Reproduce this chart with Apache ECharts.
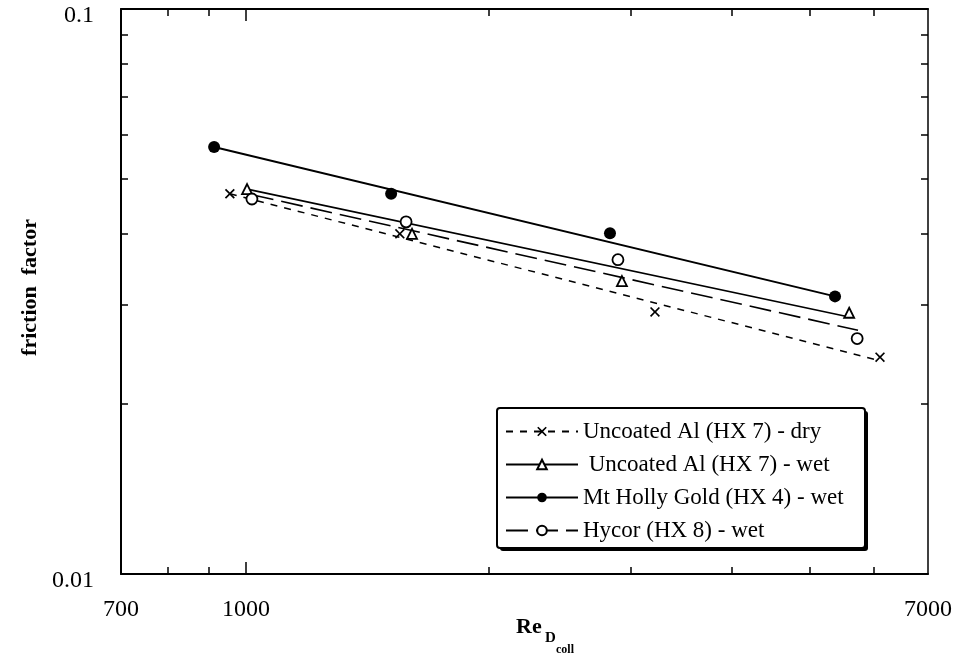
<!DOCTYPE html>
<html><head><meta charset="utf-8">
<script src="https://cdn.jsdelivr.net/npm/echarts@6/dist/echarts.min.js"></script>
<style>html,body{margin:0;padding:0;background:#fff}#c{width:962px;height:663px}</style>
</head><body><div id="c"></div>
<script>
// ---- data ----
const seriesNames = ['Uncoated Al (HX 7) - dry', ' Uncoated Al (HX 7) - wet', 'Mt Holly Gold (HX 4) - wet', 'Hycor (HX 8) - wet'];
const dryRe = [955, 1551, 3212, 6104];
const dryF = [0.0471, 0.0400, 0.0291, 0.0242];
const wetRe = [1003, 1606, 2923, 5590];
const wetF = [0.0480, 0.0400, 0.0330, 0.0290];
const hollyRe = [913, 1513, 2825, 5369];
const hollyF = [0.0570, 0.0471, 0.0401, 0.0310];
const hycorRe = [1017, 1579, 2890, 5719];
const hycorF = [0.0461, 0.0420, 0.0360, 0.0261];
// fitted power-law trend lines (end points)
const dryFitRe = [955, 6070];
const dryFitF = [0.0471, 0.0239];
const wetFitRe = [1003, 5590];
const wetFitF = [0.0480, 0.0285];
const hollyFitRe = [913, 5369];
const hollyFitF = [0.0570, 0.0310];
const hycorFitRe = [1017, 5733];
const hycorFitF = [0.0469, 0.0270];
// axis ticks
const xTickLabels = [700, 1000, 7000];
const xMinorTicks = [800, 900, 2000, 3000, 4000, 5000, 6000];
const xMajorTicks = [1000];
const yTickLabels = [0.01, 0.1];
const yMinorTicks = [0.02, 0.03, 0.04, 0.05, 0.06, 0.07, 0.08, 0.09];

const zip = (a, b) => a.map((v, i) => [v, b[i]]);
const SERIF = '"Liberation Serif", "Times New Roman", serif';
const XSYM = 'path://M0,1.2 L1.2,0 L5,3.8 L8.8,0 L10,1.2 L6.2,5 L10,8.8 L8.8,10 L5,6.2 L1.2,10 L0,8.8 L3.8,5 Z';

function xAx(pos, ticks, len, showLine, lw, labels) {
  return {
    type: 'log', logBase: 10, min: 700, max: 7000, position: pos,
    axisLine: { show: showLine, onZero: false, lineStyle: { color: '#000', width: lw } },
    axisTick: { show: true, inside: true, length: len, customValues: ticks, lineStyle: { color: '#000', width: 1.5 } },
    axisLabel: labels ? { show: true, customValues: labels, fontFamily: SERIF, fontSize: 24, color: '#000', margin: 24,
      formatter: v => String(+(+v).toPrecision(6)) } : { show: false },
    splitLine: { show: false }, minorTick: { show: false }
  };
}
function yAx(pos, ticks, len, lw, labels) {
  return {
    type: 'log', logBase: 10, min: 0.01, max: 0.1, position: pos,
    axisLine: { show: true, onZero: false, lineStyle: { color: '#000', width: lw } },
    axisTick: { show: true, inside: true, length: len, customValues: ticks, lineStyle: { color: '#000', width: 1.5 } },
    axisLabel: labels ? { show: true, customValues: labels, fontFamily: SERIF, fontSize: 24, color: '#000', margin: 27,
      verticalAlign: 'top', lineHeight: 13, formatter: v => String(+(+v).toPrecision(6)) } : { show: false },
    splitLine: { show: false }, minorTick: { show: false }
  };
}

const xAxes = [
  xAx('bottom', xMinorTicks, 7, true, 2, xTickLabels),
  xAx('bottom', xMajorTicks, 12, false, 2, null),
  xAx('top', xMinorTicks, 7, true, 2, null),
  xAx('top', xMajorTicks, 12, false, 2, null)
];
const yAxes = [
  yAx('left', yMinorTicks, 7, 2, yTickLabels),
  yAx('right', yMinorTicks, 7, 1.5, null)
];
yAxes[0].name = 'friction  factor';
yAxes[0].nameLocation = 'middle';
yAxes[0].nameRotate = 90;
yAxes[0].nameGap = 80;
yAxes[0].nameTextStyle = { fontFamily: SERIF, fontSize: 22, fontWeight: 'bold', color: '#000', padding: [0, 0, 0, 8] };

const lineDefs = [
  { name: seriesNames[0], data: zip(dryFitRe, dryFitF), symbol: XSYM, type: [7, 7], w: 1.5 },
  { name: seriesNames[1], data: zip(wetFitRe, wetFitF), symbol: 'emptyTriangle', type: 'solid', w: 1.6 },
  { name: seriesNames[2], data: zip(hollyFitRe, hollyFitF), symbol: 'circle', type: 'solid', w: 2 },
  { name: seriesNames[3], data: zip(hycorFitRe, hycorFitF), symbol: 'emptyCircle', type: [22, 8], w: 1.6 }
];
const pointDefs = [
  { name: 'dry points', data: zip(dryRe, dryF), symbol: XSYM, size: 10, color: '#000', bw: 0 },
  { name: 'wet points', data: zip(wetRe, wetF), symbol: 'triangle', size: 10, color: '#fff', bw: 1.8 },
  { name: 'holly points', data: zip(hollyRe, hollyF), symbol: 'circle', size: 12, color: '#000', bw: 0 },
  { name: 'hycor points', data: zip(hycorRe, hycorF), symbol: 'circle', size: 11, color: '#fff', bw: 1.8 }
];

const series = [];
lineDefs.forEach(d => series.push({
  type: 'line', name: d.name, data: d.data, xAxisIndex: 0, yAxisIndex: 0,
  symbol: d.symbol, symbolSize: 9, showSymbol: false, silent: true, animation: false,
  itemStyle: { color: '#000' },
  lineStyle: { color: '#000', width: d.w, type: d.type }
}));
pointDefs.forEach(d => series.push({
  type: 'scatter', name: d.name, data: d.data, xAxisIndex: 0, yAxisIndex: 0,
  symbol: d.symbol, symbolSize: d.size, animation: false, silent: true, z: 5,
  itemStyle: { color: d.color, borderColor: '#000', borderWidth: d.bw, opacity: 1 }
}));

const chart = echarts.init(document.getElementById('c'), null, { renderer: 'canvas' });
chart.setOption({
  backgroundColor: '#fff',
  animation: false,
  grid: { left: 121, right: 34, top: 9, bottom: 89, containLabel: false },
  xAxis: xAxes,
  yAxis: yAxes,
  legend: {
    data: seriesNames, orient: 'vertical', left: 497, top: 408, z: 10,
    itemWidth: 72, itemHeight: 12, itemGap: 10,
    padding: [12, 12, 8, 8],
    backgroundColor: 'transparent', borderWidth: 0,
    textStyle: { fontFamily: SERIF, fontSize: 23, color: '#000', lineHeight: 22 },
    selectedMode: false
  },
  graphic: [
    { type: 'rect', z: 3, silent: true, shape: { x: 500, y: 411, width: 368, height: 140, r: 3 }, style: { fill: '#000' } },
    { type: 'rect', z: 4, silent: true, shape: { x: 497, y: 408, width: 368, height: 140, r: 3 }, style: { fill: '#fff', stroke: '#000', lineWidth: 2 } },
    { type: 'text', left: 516, top: 616, style: { text: 'Re', font: 'bold 22px ' + SERIF, fill: '#000' } },
    { type: 'text', left: 545, top: 631, style: { text: 'D', font: 'bold 15px ' + SERIF, fill: '#000' } },
    { type: 'text', left: 556, top: 644, style: { text: 'coll', font: 'bold 12px ' + SERIF, fill: '#000' } }
  ],
  series: series
});
</script></body></html>
